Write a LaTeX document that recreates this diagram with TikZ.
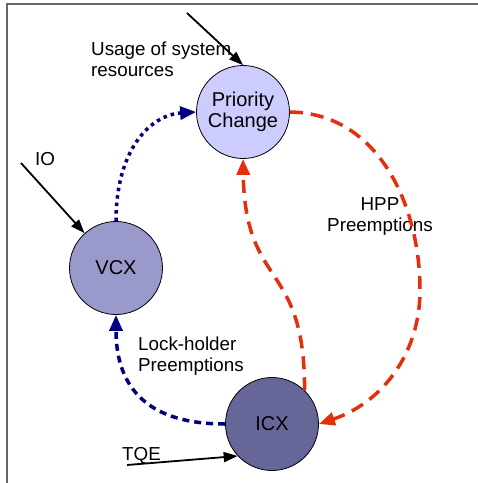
\documentclass[tikz,border=0pt]{standalone}
\usepackage{fontspec}
\setmainfont{Liberation Sans}
\usetikzlibrary{arrows.meta}
\definecolor{pcfill}{HTML}{CCCCFF}
\definecolor{vcxfill}{HTML}{9999CC}
\definecolor{icxfill}{HTML}{666699}
\definecolor{hppred}{HTML}{E3300C}
\definecolor{lockblue}{HTML}{000080}

\begin{document}
\begin{tikzpicture}[x=1pt, y=-1pt]
	\tikzstyle{every node} = [font=\fontsize{18.8}{21}\selectfont]
	\tikzstyle{proc} = [circle, draw, line width=0.8pt, minimum size=93pt, inner sep=0pt, align=center, font=\fontsize{20}{21.5}\selectfont]
	\tikzstyle{lbl} = [inner sep=0pt, align=left]
	\tikzstyle{input} = [-{Triangle[length=14pt, width=10pt]}, line width=1.8pt]
	\tikzstyle{hpp} = [-{Triangle[length=16pt, width=13pt]}, hppred, line width=3.5pt, dash pattern=on 13pt off 8pt]
	\tikzstyle{lock} = [-{Triangle[length=16pt, width=13pt]}, lockblue, line width=3.5pt, dash pattern=on 7pt off 5pt]
	\tikzstyle{sched} = [-{Triangle[length=16pt, width=13pt]}, lockblue, line width=3.5pt, dash pattern=on 3.5pt off 4pt]
	\useasboundingbox (0, 0) rectangle (478, 483);
	\draw [gray!80!black, line width=1.5pt] (7, 483) -- (7, 4) -- (478, 4);
	\node[proc, fill=pcfill] (pc) at (243, 112) {Priority\\Change};
	\node[proc, fill=vcxfill] (vcx) at (116, 268) {VCX};
	\node[proc, fill=icxfill] (icx) at (272, 424) {ICX};
	\coordinate (usage) at (187, 13);
	\coordinate (io) at (21, 163);
	\coordinate (tqe) at (127, 465);
	\coordinate (hppmid) at (420, 290);
	\node[lbl, anchor=north west] (usagetxt) at (91, 42) {Usage of system\\resources};
	\node[lbl, anchor=base west] (iotxt) at (35, 165) {IO};
	\node[lbl, anchor=base west] (tqetxt) at (122, 460) {TQE};
	\node[lbl, anchor=north west] (locktxt) at (138, 337) {Lock-holder\\Preemptions};
	\node[lbl, align=center, anchor=north] (hpptxt) at (380, 197) {HPP\\Preemptions};
	\draw [input] (usage) -- (pc.north);
	\draw [input] (io) -- (vcx);
	\draw [input] (tqe) -- (icx.223);
	\draw [sched] (vcx.north) .. controls (116, 150) and (150, 115) .. (pc.west);
	\draw [lock] (icx.west) .. controls (150, 424) and (116, 390) .. (vcx.south);
	\draw [hpp] (pc.east) .. controls (378, 113) and (420, 205) .. (hppmid) .. controls (420, 355) and (381, 403) .. (icx.east);
	\draw [hpp] (icx.46) .. controls (305, 260) and (245, 290) .. (pc.south);
\end{tikzpicture}
\end{document}
